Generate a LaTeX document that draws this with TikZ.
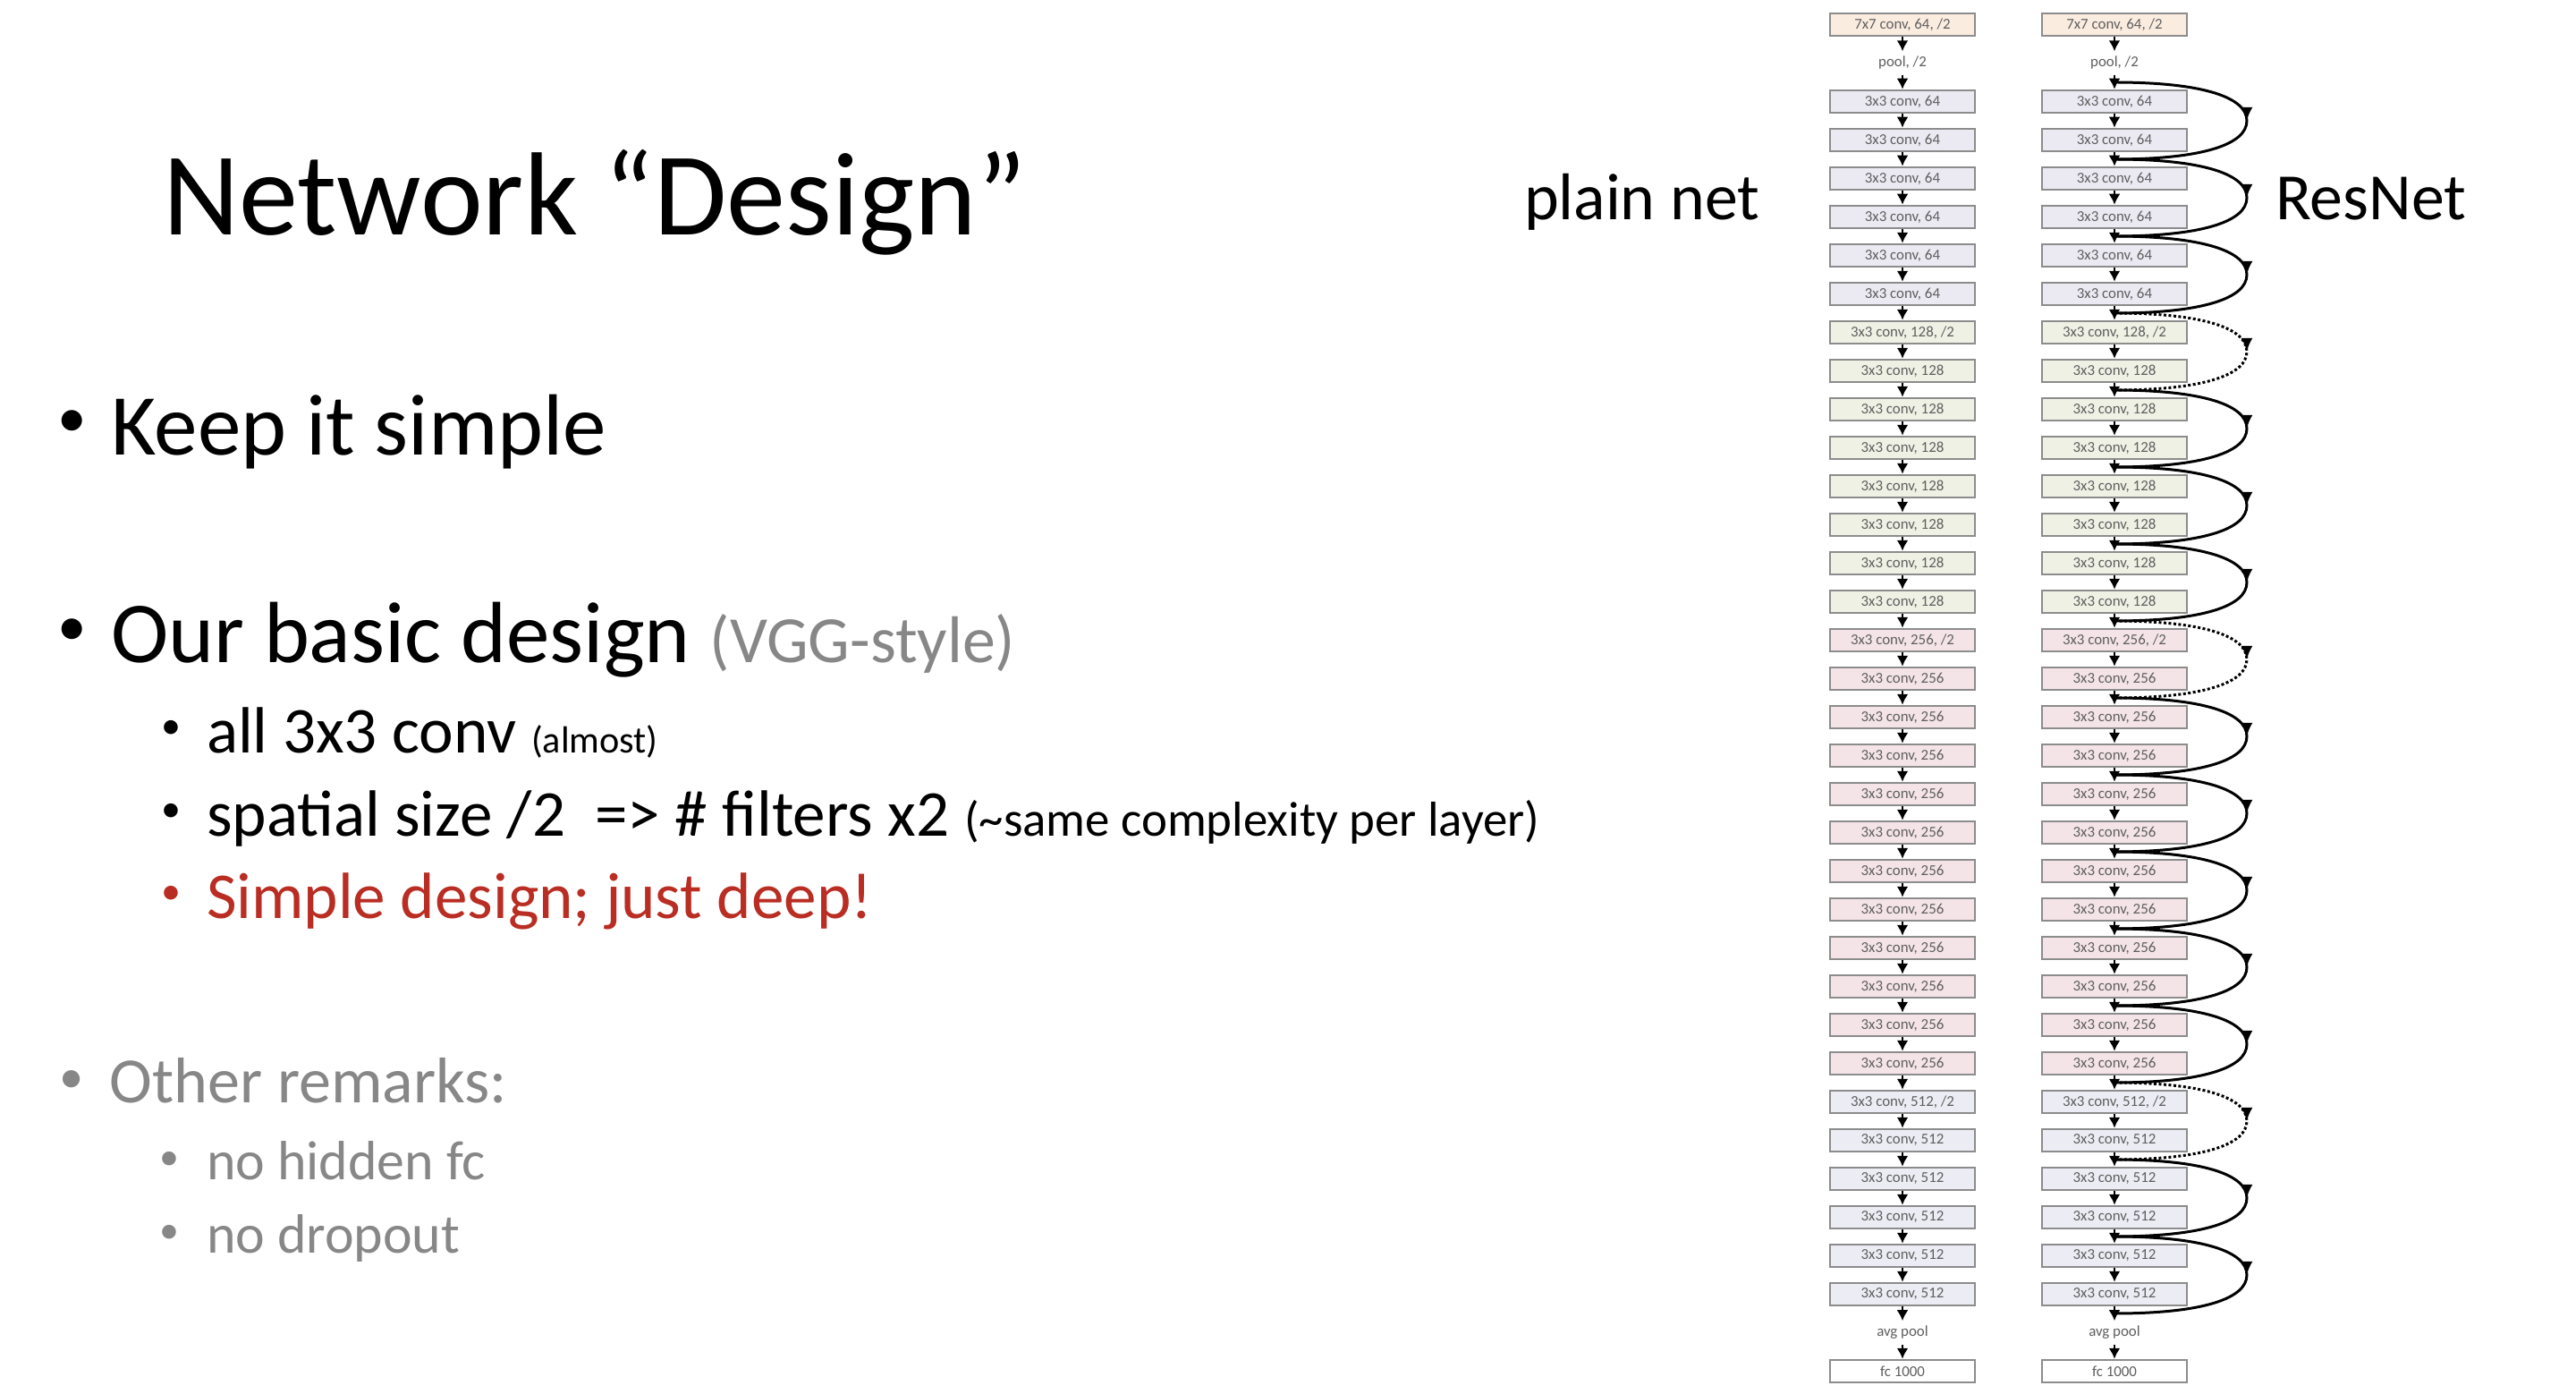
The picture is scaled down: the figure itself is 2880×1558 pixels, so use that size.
\documentclass[tikz,border=0pt]{standalone}
\usepackage{fontspec}
\setmainfont{Carlito}
\usetikzlibrary{arrows.meta,calc,decorations.markings}

\definecolor{c7}{RGB}{251,236,224}
\definecolor{c64}{RGB}{235,234,243}
\definecolor{c128}{RGB}{240,241,229}
\definecolor{c256}{RGB}{244,228,231}
\definecolor{c512}{RGB}{236,236,244}
\definecolor{boxline}{RGB}{140,140,140}
\definecolor{lbltext}{RGB}{95,95,95}
\definecolor{softgrey}{RGB}{135,135,135}
\definecolor{accent}{RGB}{185,45,35}

\begin{document}
\begin{tikzpicture}[x=0.01cm,y=-0.01cm,
  box/.style={draw=boxline, line width=0.7pt, minimum width=1.62cm, minimum height=0.25cm,
    inner sep=0pt, font=\fontsize{4.8}{5.6}\selectfont, text=lbltext},
  lbl/.style={inner sep=1.5pt, font=\fontsize{4.8}{5.6}\selectfont, text=lbltext},
  flow/.style={line width=0.8pt, -{Latex[length=0.12cm,width=0.13cm]}},
  skipline/.style={line width=0.85pt, postaction={decorate},
    decoration={markings, mark=at position 0.5 with {\arrow{Latex[length=0.15cm,width=0.13cm]}}}},
  skipdots/.style={skipline, dash pattern=on 0.03cm off 0.025cm},
  txt/.style={anchor=base west, inner sep=0pt, outer sep=0pt},
  dot/.style={anchor=center, inner sep=0pt, outer sep=0pt},
  big/.style={font=\fontsize{27.6}{33}\selectfont},
  mid/.style={font=\fontsize{20.8}{25}\selectfont},
  bigdot/.style={dot, font=\fontsize{18.5}{20}\selectfont},
  middot/.style={dot, font=\fontsize{12.5}{14}\selectfont},
]
\useasboundingbox (0,0) rectangle (2880,1558);
\fill[white] (0,0) rectangle (2880,1558);

% ---------- slide text ----------
\node[txt, font=\fontsize{37.6}{45}\selectfont] (title) at (182,263) {Network “Design”};

\node[bigdot] (b1) at (81,474) {•};
\node[txt, big] (t1) at (124,509) {Keep it simple};

\node[bigdot] (b2) at (81,707) {•};
\node[txt, big] (t2) at (124,741) {Our basic design {\color{softgrey}\fontsize{21}{24}\selectfont (VGG-style)}};

\node[middot] (b3) at (191,815) {•};
\node[txt, mid] (t3) at (231,842) {all 3x3 conv {\fontsize{12}{14}\selectfont(almost)}};

\node[middot] (b4) at (191,908) {•};
\node[txt, mid] (t4) at (231,935) {spatial size /2\ \ => \# filters x2 {\fontsize{15.6}{18}\selectfont(\textasciitilde same complexity per layer)}};

\node[middot, text=accent] (b5) at (191,1000) {•};
\node[txt, mid, text=accent] (t5) at (231,1026) {Simple design; just deep!};

\node[dot, font=\fontsize{15.5}{18}\selectfont, text=softgrey] (b6) at (80,1209) {•};
\node[txt, font=\fontsize{20.5}{25}\selectfont, text=softgrey] (t6) at (123,1232) {Other remarks:};

\node[dot, font=\fontsize{12.5}{14}\selectfont, text=softgrey] (b7) at (189,1297) {•};
\node[txt, font=\fontsize{17.6}{21}\selectfont, text=softgrey] (t7) at (231,1318) {no hidden fc};
\node[dot, font=\fontsize{12.5}{14}\selectfont, text=softgrey] (b8) at (189,1379) {•};
\node[txt, font=\fontsize{17.6}{21}\selectfont, text=softgrey] (t8) at (231,1400) {no dropout};

\node[txt, font=\fontsize{21}{25}\selectfont] (plainlbl) at (1704,246) {plain net};
\node[txt, font=\fontsize{21}{25}\selectfont] (reslbl) at (2544,246) {ResNet};

% ---------- the two 34-layer columns ----------
\foreach \cn/\xc in {p/2127,r/2364}{
  \node[box, fill=c7] (\cn0) at (\xc,27.5) {7x7 conv, 64, /2};
  \node[lbl] (\cn1) at (\xc,70.5) {pool, /2};
  \foreach \i in {2,...,7}
    \node[box, fill=c64] (\cn\i) at (\xc,{27.5+43*\i}) {3x3 conv, 64};
  \node[box, fill=c128] (\cn8) at (\xc,{27.5+43*8}) {3x3 conv, 128, /2};
  \foreach \i in {9,...,15}
    \node[box, fill=c128] (\cn\i) at (\xc,{27.5+43*\i}) {3x3 conv, 128};
  \node[box, fill=c256] (\cn16) at (\xc,{27.5+43*16}) {3x3 conv, 256, /2};
  \foreach \i in {17,...,27}
    \node[box, fill=c256] (\cn\i) at (\xc,{27.5+43*\i}) {3x3 conv, 256};
  \node[box, fill=c512] (\cn28) at (\xc,{27.5+43*28}) {3x3 conv, 512, /2};
  \foreach \i in {29,...,33}
    \node[box, fill=c512] (\cn\i) at (\xc,{27.5+43*\i}) {3x3 conv, 512};
  \node[lbl] (\cn34) at (\xc,{27.5+43*34}) {avg pool};
  \node[box, fill=white] (\cn35) at (\xc,{27.5+43*35}) {fc 1000};
  \foreach \i [evaluate=\i as \j using int(\i+1)] in {0,...,34}
    \draw[flow] (\cn\i) -- (\cn\j);
}

% junctions on the ResNet trunk, halfway between consecutive layers
\foreach \i [evaluate=\i as \h using int(\i-1)] in {2,...,34}
  \coordinate (j\i) at ($(r\h)!0.5!(r\i)$);

% identity shortcuts (solid) and projection shortcuts (dotted)
\foreach \sa/\sb in {2/4,4/6,6/8,10/12,12/14,14/16,18/20,20/22,22/24,24/26,26/28,30/32,32/34}{
  \coordinate (m\sa) at ($(j\sa)!0.5!(j\sb)+(148,0)$);
  \draw[skipline] (j\sa) .. controls ($(j\sa)+(100,0)$) and ($(m\sa)+(0,-26)$) .. (m\sa)
                         .. controls ($(m\sa)+(0,26)$) and ($(j\sb)+(100,0)$) .. (j\sb);
}
\foreach \sa/\sb in {8/10,16/18,28/30}{
  \coordinate (m\sa) at ($(j\sa)!0.5!(j\sb)+(148,0)$);
  \draw[skipdots] (j\sa) .. controls ($(j\sa)+(100,0)$) and ($(m\sa)+(0,-26)$) .. (m\sa)
                         .. controls ($(m\sa)+(0,26)$) and ($(j\sb)+(100,0)$) .. (j\sb);
}
\end{tikzpicture}
\end{document}
